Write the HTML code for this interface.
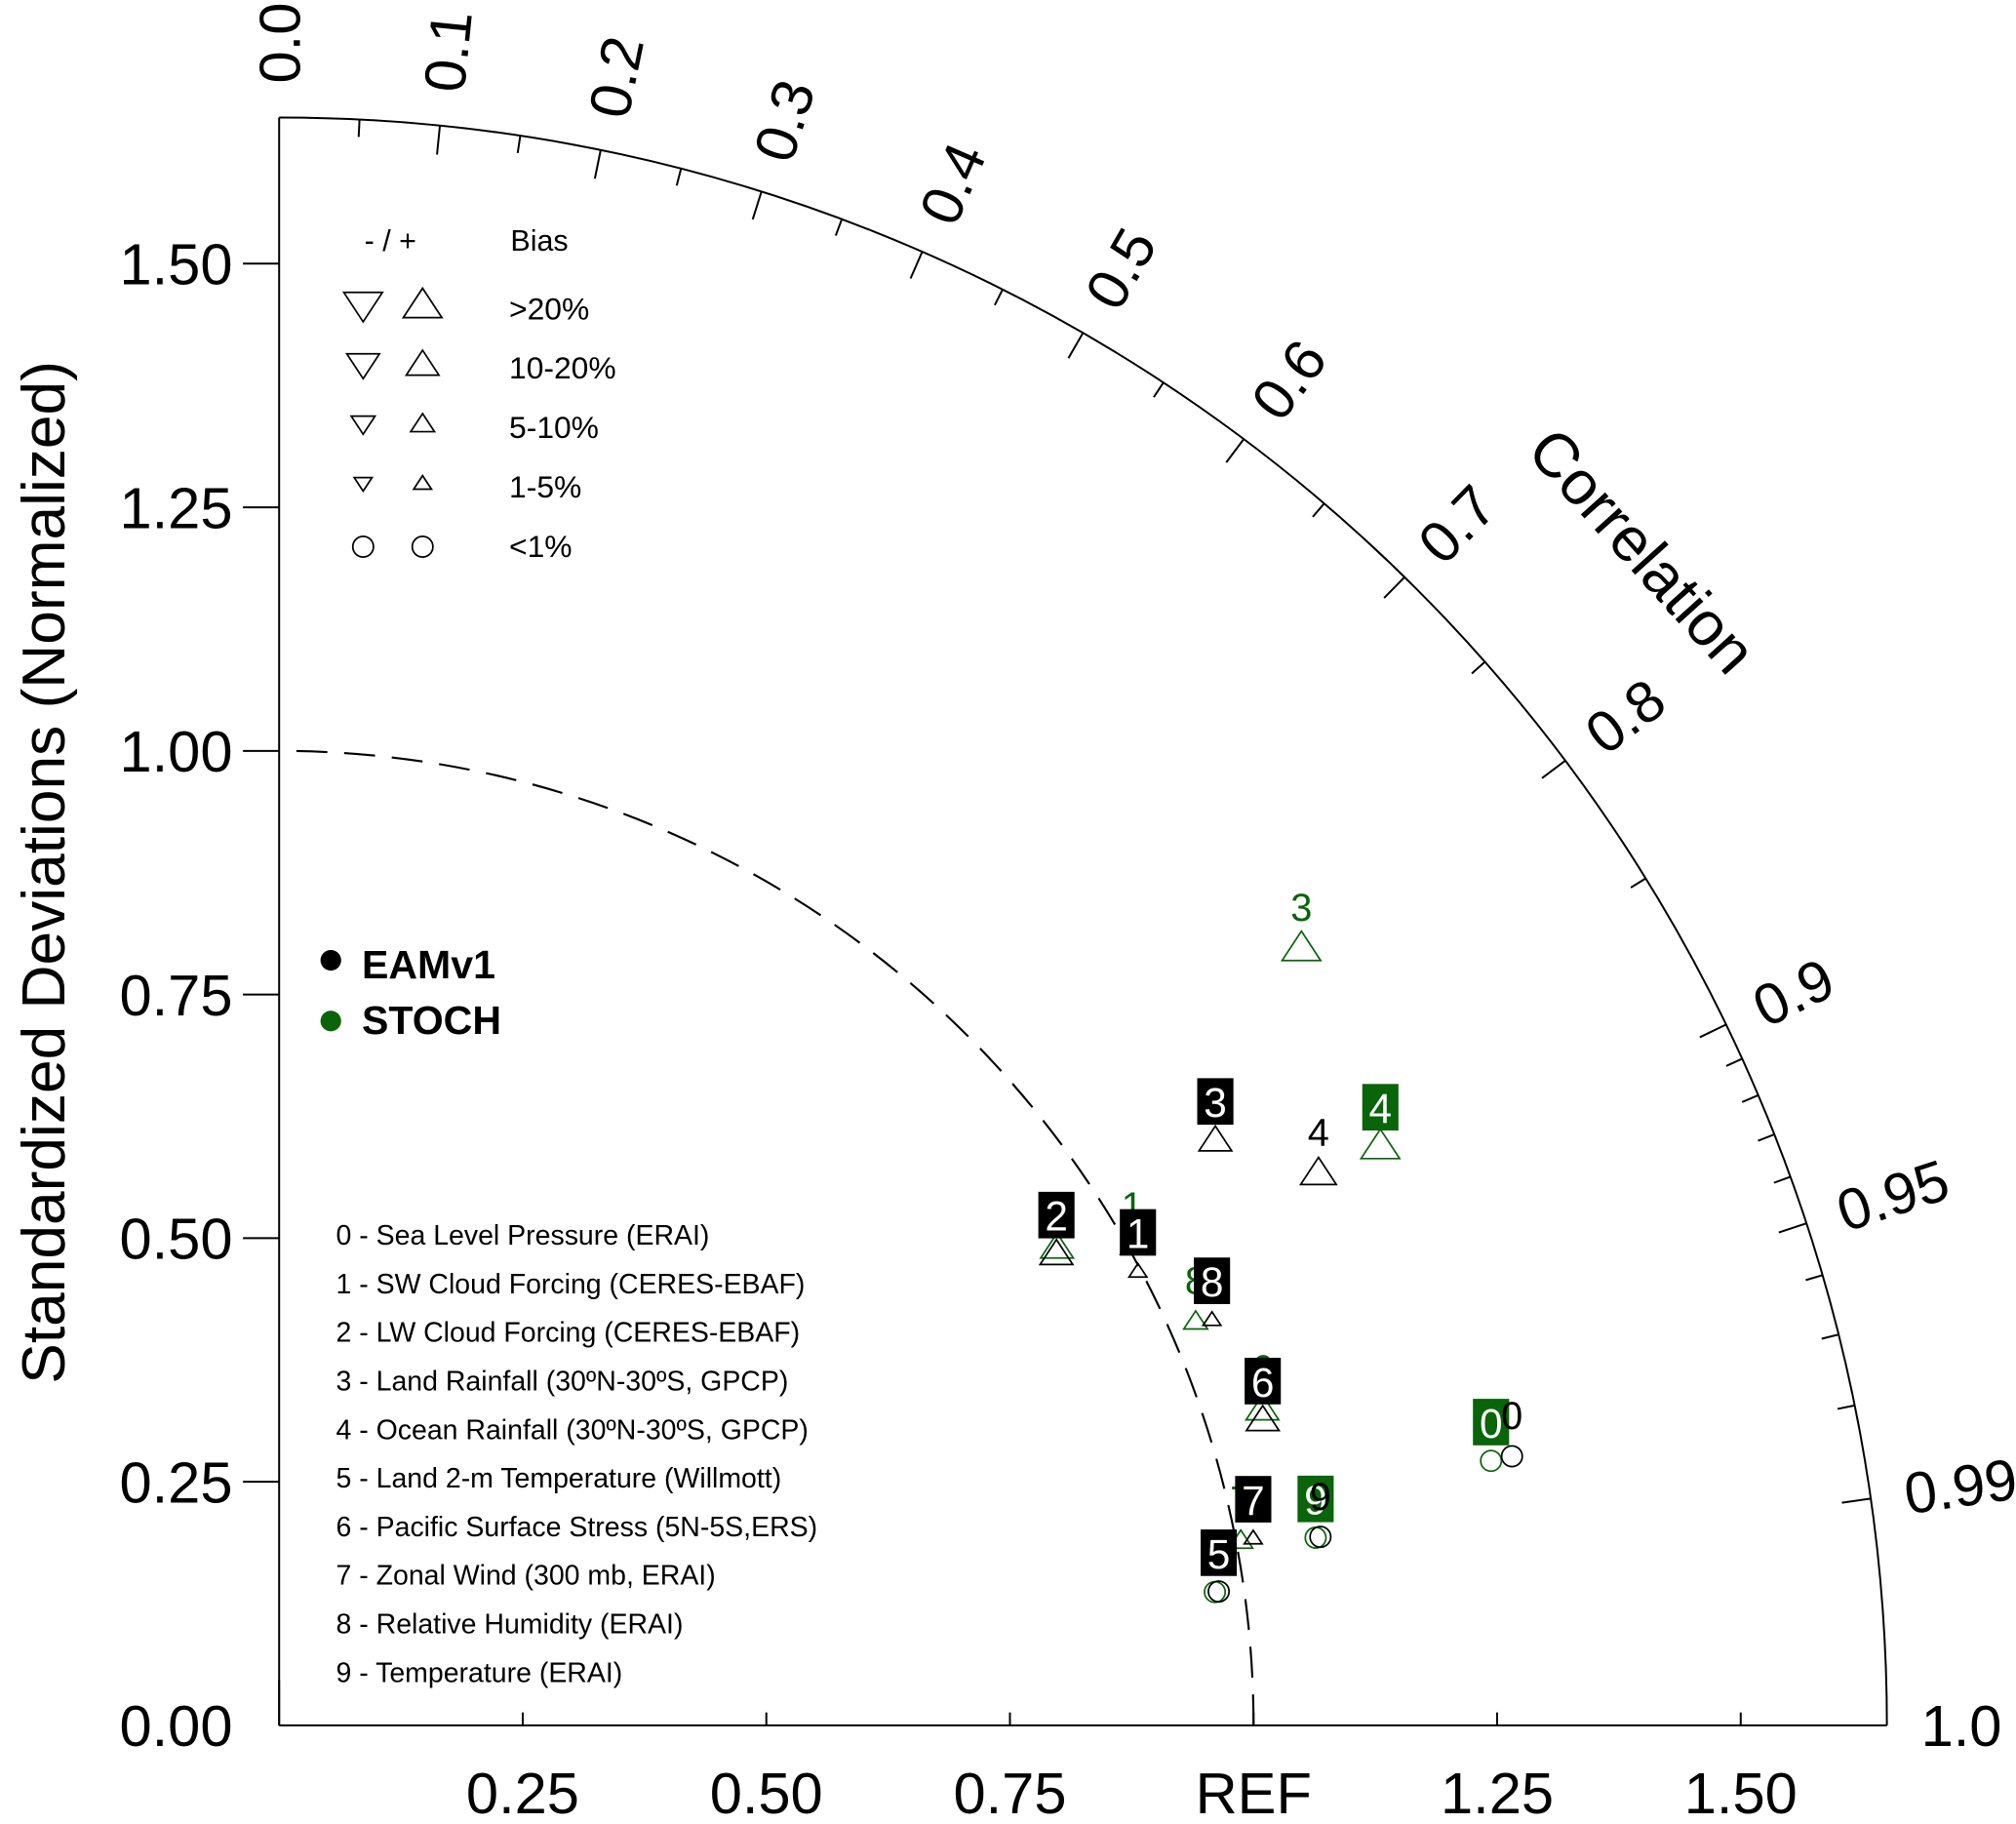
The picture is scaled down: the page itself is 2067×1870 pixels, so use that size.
<!DOCTYPE html>
<html><head><meta charset="utf-8"><style>
html,body{margin:0;padding:0;background:#fff;}
svg{display:block;font-family:"Liberation Sans",sans-serif;}
</style></head><body>
<svg id="chart" width="2067" height="1870" viewBox="0 0 1560 1411.3" preserveAspectRatio="none" xmlns="http://www.w3.org/2000/svg"></svg>
<script>
const names = ["0","1","2","3","4","5","6","7","8","9"];
const eamStd = [1.295,0.997,0.933,1.133,1.208,0.974,1.057,1.018,1.044,1.086];
const eamCorr = [0.977,0.884,0.855,0.848,0.883,0.990,0.955,0.982,0.917,0.984];
const eamShape = ["c","t","t","t","t","c","t","t","t","c"];
const eamSize = [8,6,11,11,12,8,11,6,6,8];
const eamBoxed = [false,true,true,true,false,true,true,true,true,false];
const stoStd = [1.273,1.004,0.937,1.318,1.277,0.970,1.060,1.005,1.028,1.081];
const stoCorr = [0.977,0.872,0.852,0.796,0.885,0.990,0.952,0.982,0.915,0.984];
const stoShape = ["c","t","t","t","t","c","t","t","t","c"];
const stoSize = [8,8,11,13,13,8,11,8,8,8];
const stoBoxed = [true,false,false,false,true,false,false,false,false,true];
const stdTicks = [0.25,0.5,0.75,1.0,1.25,1.5];
const stdTickLabels = ["0.25","0.50","0.75","REF","1.25","1.50"];
const yTickLabels = ["0.25","0.50","0.75","1.00","1.25","1.50"];
const corrMajor = [0,0.1,0.2,0.3,0.4,0.5,0.6,0.7,0.8,0.9,0.95,0.99,1.0];
const corrMajorLabels = ["0.0","0.1","0.2","0.3","0.4","0.5","0.6","0.7","0.8","0.9","0.95","0.99","1.0"];
const corrMinor = [0.05,0.15,0.25,0.35,0.45,0.55,0.65,0.75,0.85,0.91,0.92,0.93,0.94,0.96,0.97,0.98];
const refList = ["0 - Sea Level Pressure (ERAI)","1 - SW Cloud Forcing (CERES-EBAF)","2 - LW Cloud Forcing (CERES-EBAF)","3 - Land Rainfall (30ºN-30ºS, GPCP)","4 - Ocean Rainfall (30ºN-30ºS, GPCP)","5 - Land 2-m Temperature (Willmott)","6 - Pacific Surface Stress (5N-5S,ERS)","7 - Zonal Wind (300 mb, ERAI)","8 - Relative Humidity (ERAI)","9 - Temperature (ERAI)"];

const svg=document.getElementById('chart');
const NS="http://www.w3.org/2000/svg";
const X0=216,Y0=1335,U=754,RMAX=1.65,GREEN="#0a640a";
function px(x){return X0+x*U;}
function py(y){return Y0-y*U;}
function polar(s,c){const t=Math.acos(Math.min(1,c));return [px(s*Math.cos(t)),py(s*Math.sin(t))];}
function el(tag,attrs,parent){const e=document.createElementNS(NS,tag);for(const k in attrs)e.setAttribute(k,attrs[k]);(parent||svg).appendChild(e);return e;}
function txt(s,attrs,parent){const e=el('text',attrs,parent);e.textContent=s;return e;}

let g=el('g',{});


el('line',{x1:X0,y1:Y0,x2:px(RMAX),y2:Y0,stroke:'#000','stroke-width':1.5},g);
el('line',{x1:X0,y1:Y0,x2:X0,y2:py(RMAX),stroke:'#000','stroke-width':1.5},g);
el('path',{d:`M${px(RMAX)},${Y0} A${RMAX*U},${RMAX*U} 0 0 0 ${X0},${py(RMAX)}`,fill:'none',stroke:'#000','stroke-width':1.5},g);
let ref=el('path',{d:`M${px(1)},${Y0} A${U},${U} 0 0 0 ${X0},${py(1)}`,fill:'none',stroke:'#000','stroke-width':1.6,'stroke-dasharray':'24,13'},g);



stdTicks.forEach((v,i)=>{
  el('line',{x1:px(v),y1:Y0,x2:px(v),y2:Y0-10,stroke:'#000','stroke-width':1.5},g);
  let t=txt(stdTickLabels[i],{x:px(v),y:Y0+68,'font-size':45,'text-anchor':'middle'},g);
  
  
  el('line',{x1:X0-28,y1:py(v),x2:X0,y2:py(v),stroke:'#000','stroke-width':1.5},g);
  let t2=txt(yTickLabels[i],{x:X0-36,y:py(v)+16,'font-size':45,'text-anchor':'end'},g);
  
  
});
txt("0.00",{x:X0-36,y:Y0+16,'font-size':45,'text-anchor':'end'},g);
el('line',{x1:X0,y1:Y0,x2:X0,y2:Y0-35,stroke:'#000','stroke-width':1.5},g);

corrMajor.forEach((c,i)=>{
  const t=Math.acos(c);
  const a=polar(RMAX,c),b=polar(RMAX-0.03,c);
  if(c>0&&c<1) el('line',{x1:a[0],y1:a[1],x2:b[0],y2:b[1],stroke:'#000','stroke-width':1.5},g);
  const p=polar(RMAX+0.035,c);const deg=-t*180/Math.PI;
  let tl=txt(corrMajorLabels[i],{x:p[0],y:p[1],'font-size':45,transform:`rotate(${deg},${p[0]},${p[1]})`,dy:16},g);
  
  
});
corrMinor.forEach(c=>{
  const a=polar(RMAX,c),b=polar(RMAX-0.018,c);
  el('line',{x1:a[0],y1:a[1],x2:b[0],y2:b[1],stroke:'#000','stroke-width':1.5},g);
});
let ct=txt("Correlation",{x:1180,y:350,'font-size':48,transform:'rotate(48,1180,350)'},g);


let yt=txt("Standardized Deviations (Normalized)",{x:50,y:675,'font-size':47,'text-anchor':'middle',transform:'rotate(-90,50,675)'},g);



function tri(cx,cy,s,color,parent){return el('path',{d:`M${cx},${cy-s} L${cx+s*1.15},${cy+s*0.75} L${cx-s*1.15},${cy+s*0.75} Z`,fill:'none',stroke:color,'stroke-width':1.3},parent);}
function down(cx,cy,s,color,parent){return el('path',{d:`M${cx},${cy+s} L${cx+s*1.15},${cy-s*0.75} L${cx-s*1.15},${cy-s*0.75} Z`,fill:'none',stroke:color,'stroke-width':1.3},parent);}

let lg=el('g',{});


txt("- / +",{x:282,y:194,'font-size':23},lg);
txt("Bias",{x:395,y:194,'font-size':23},lg);
const legS=[13,11,8,6];const legL=[">20%","10-20%","5-10%","1-5%"];const legY=[239,285,331,377];
legS.forEach((s,i)=>{down(281,legY[i]-3,s,'#000',lg);tri(327,legY[i]-3,s,'#000',lg);txt(legL[i],{x:394,y:legY[i]+8,'font-size':24},lg);});
el('circle',{cx:281,cy:423,r:8,fill:'none',stroke:'#000','stroke-width':1.3},lg);
el('circle',{cx:327,cy:423,r:8,fill:'none',stroke:'#000','stroke-width':1.3},lg);
txt("<1%",{x:394,y:431,'font-size':24},lg);

let ml=el('g',{});


el('circle',{cx:256,cy:743,r:8,fill:'#000'},ml);
txt("EAMv1",{x:280,y:757,'font-size':31,'font-weight':'bold'},ml);
el('circle',{cx:256,cy:790,r:8,fill:GREEN},ml);
txt("STOCH",{x:280,y:800,'font-size':31,'font-weight':'bold'},ml);

let vl=el('g',{});


refList.forEach((s,i)=>txt(s,{x:260,y:963+i*37.6,'font-size':21.5},vl));

function series(std,corr,shape,size,boxed,color,name){
  const sg=el('g',{});
  
  
  std.forEach((s,i)=>{
    const [x,y]=polar(s,corr[i]);
    let m;
    if(shape[i]==="c"){m=el('circle',{cx:x,cy:y,r:size[i],fill:'none',stroke:color,'stroke-width':1.3},sg);}
    else m=tri(x,y,size[i],color,sg);
    
    
    const ly=y-30;
    if(boxed[i]){
      el('rect',{x:x-14,y:ly-18,width:28,height:36,fill:color},sg);
      txt(names[i],{x:x,y:ly+12,'font-size':32,'text-anchor':'middle',fill:'#fff'},sg);
    } else {
      txt(names[i],{x:x,y:ly+9,'font-size':30,'text-anchor':'middle',fill:color},sg);
    }
  });
}
series(stoStd,stoCorr,stoShape,stoSize,stoBoxed,GREEN,'stoch');
series(eamStd,eamCorr,eamShape,eamSize,eamBoxed,'#000','eamv1');
</script>
</body></html>
